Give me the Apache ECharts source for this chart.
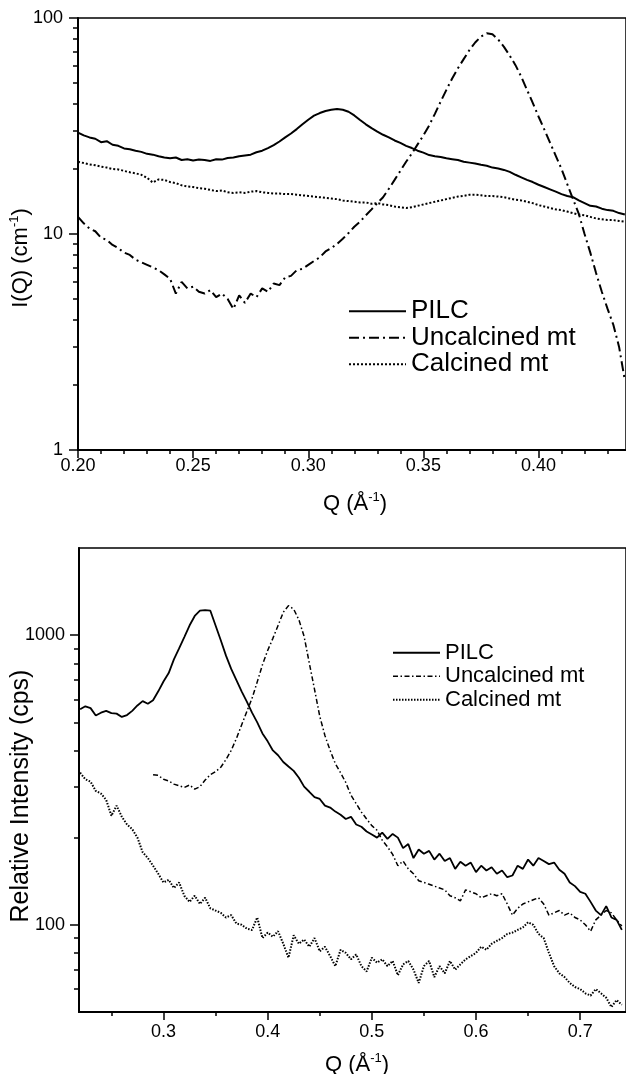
<!DOCTYPE html>
<html><head><meta charset="utf-8">
<script src="https://cdn.jsdelivr.net/npm/echarts@6/dist/echarts.min.js"></script>
<style>html,body{margin:0;padding:0;background:#fff}#c{width:626px;height:1074px}</style>
</head><body><div id="c"></div>
<script>
// ---------- Top panel (SANS) ----------
const topQ = [0.2000,0.2025,0.2050,0.2075,0.2100,0.2125,0.2150,0.2175,0.2200,0.2225,
0.2250,0.2275,0.2300,0.2325,0.2350,0.2375,0.2400,0.2425,0.2450,0.2475,
0.2500,0.2525,0.2550,0.2575,0.2600,0.2625,0.2650,0.2675,0.2700,0.2725,
0.2750,0.2775,0.2800,0.2825,0.2850,0.2875,0.2900,0.2925,0.2950,0.2975,
0.3000,0.3025,0.3050,0.3075,0.3100,0.3125,0.3150,0.3175,0.3200,0.3225,
0.3250,0.3275,0.3300,0.3325,0.3350,0.3375,0.3400,0.3425,0.3450,0.3475,
0.3500,0.3525,0.3550,0.3575,0.3600,0.3625,0.3650,0.3675,0.3700,0.3725,
0.3750,0.3775,0.3800,0.3825,0.3850,0.3875,0.3900,0.3925,0.3950,0.3975,
0.4000,0.4025,0.4050,0.4075,0.4100,0.4125,0.4150,0.4175,0.4200,0.4225,
0.4250,0.4275,0.4300,0.4325,0.4350,0.4375];
const topPILC = [29.5,28.6,28.0,27.6,26.6,26.9,25.9,25.6,24.9,24.7,
24.3,24.0,23.5,23.3,22.9,22.6,22.4,22.6,22.0,22.2,
21.9,22.1,22.0,21.8,22.2,22.1,22.5,22.6,22.9,23.1,
23.3,23.9,24.3,25.0,25.8,26.8,28.0,29.2,30.6,32.2,
33.8,35.3,36.3,37.1,37.6,37.9,37.6,36.8,35.4,33.7,
32.2,30.9,29.8,28.8,28.0,27.1,26.4,25.6,25.0,24.3,
23.8,23.2,22.9,22.7,22.4,22.2,22.0,21.6,21.4,21.2,
20.9,20.7,20.3,20.1,19.8,19.4,18.8,18.3,17.8,17.4,
16.9,16.5,16.1,15.7,15.3,15.0,14.8,14.3,13.9,13.5,
13.4,13.1,12.9,12.8,12.5,12.3];
const topUncalcined = [12.0,11.2,10.6,10.3,9.6,9.4,8.9,8.6,8.2,8.0,
7.6,7.4,7.2,7.0,6.8,6.5,6.2,5.3,6.0,5.6,
5.7,5.4,5.3,5.5,5.1,5.3,5.0,4.5,5.2,4.8,
5.3,5.1,5.6,5.4,5.9,5.8,6.3,6.4,6.8,6.9,
7.2,7.5,7.8,8.3,8.6,9.0,9.5,10.1,10.8,11.4,
12.2,13.0,13.9,14.8,16.2,17.8,19.6,21.6,23.6,26.0,
28.6,31.8,36.0,41.0,46.5,52.5,58.5,64.5,71.0,77.0,
82.0,85.0,84.0,79.5,73.5,67.0,60.5,53.5,46.5,40.5,
35.0,30.5,26.5,23.0,20.0,17.0,14.5,12.4,10.0,8.2,
6.6,5.4,4.5,3.8,3.0,2.1];
const topCalcined = [21.6,21.3,21.0,20.8,20.5,20.3,20.0,19.9,19.6,19.3,
19.1,18.8,18.2,17.3,17.9,17.8,17.4,17.2,16.8,16.6,
16.5,16.3,16.2,16.0,15.8,15.9,15.6,15.5,15.6,15.5,
15.7,15.8,15.6,15.5,15.4,15.4,15.3,15.3,15.2,15.1,
15.0,14.9,14.8,14.7,14.6,14.5,14.3,14.2,14.1,14.0,
14.0,13.8,13.9,13.7,13.6,13.4,13.3,13.2,13.3,13.5,
13.7,13.9,14.1,14.3,14.5,14.7,14.9,15.0,15.2,15.2,
15.1,15.0,15.0,14.9,14.8,14.6,14.4,14.3,14.1,13.9,
13.6,13.4,13.2,13.0,12.9,12.7,12.5,12.3,12.2,12.0,
11.8,11.7,11.6,11.6,11.5,11.4];
const topXLabels = [0.20,0.25,0.30,0.35,0.40];
const topXMinor = [0.21,0.22,0.23,0.24,0.26,0.27,0.28,0.29,0.31,0.32,0.33,0.34,0.36,0.37,0.38,0.39,0.41,0.42,0.43];
const topYLabels = [1,10,100];
const topYMinor = [2,3,4,5,6,7,8,9,20,30,40,50,60,70,80,90];

// ---------- Bottom panel (XRD) ----------
const botQ = [0.220,0.225,0.230,0.235,0.240,0.245,0.250,0.255,0.260,0.265,
0.270,0.275,0.280,0.285,0.290,0.295,0.300,0.305,0.310,0.315,
0.320,0.325,0.330,0.335,0.340,0.345,0.350,0.355,0.360,0.365,
0.370,0.375,0.380,0.385,0.390,0.395,0.400,0.405,0.410,0.415,
0.420,0.425,0.430,0.435,0.440,0.445,0.450,0.455,0.460,0.465,
0.470,0.475,0.480,0.485,0.490,0.495,0.500,0.505,0.510,0.515,
0.520,0.525,0.530,0.535,0.540,0.545,0.550,0.555,0.560,0.565,
0.570,0.575,0.580,0.585,0.590,0.595,0.600,0.605,0.610,0.615,
0.620,0.625,0.630,0.635,0.640,0.645,0.650,0.655,0.660,0.665,
0.670,0.675,0.680,0.685,0.690,0.695,0.700,0.705,0.710,0.715,
0.720,0.725,0.730,0.735,0.740];
const botPILC = [555,568,560,528,540,548,538,536,522,530,
548,572,592,580,596,640,692,740,825,900,
985,1080,1165,1215,1220,1215,1080,960,850,765,
700,640,590,540,500,458,430,400,385,365,
352,340,322,300,288,276,272,258,254,246,
240,232,236,222,218,210,205,200,208,198,
206,200,184,190,170,182,176,180,168,176,
166,170,156,165,160,164,152,160,154,158,
150,154,146,148,160,156,168,160,170,166,
162,164,155,150,140,136,130,128,120,112,
108,116,106,104,96];
const botUncalcined = [null,null,null,null,null,null,null,null,null,null,
null,null,null,null,330,328,318,314,306,302,
298,304,294,300,316,330,338,350,372,400,
440,490,545,605,690,790,885,975,1080,1200,
1265,1230,1130,990,800,650,525,450,400,360,
335,310,280,262,245,232,220,212,196,186,
175,160,166,156,150,142,140,138,136,134,
132,126,124,121,132,130,128,124,126,128,
126,128,118,108,114,118,120,122,124,118,
108,110,112,108,110,106,104,100,95,104,
108,112,110,104,99];
const botCalcined = [335,318,312,290,284,270,238,258,236,222,
214,200,178,170,160,150,140,143,134,140,
126,120,126,118,124,114,112,110,106,108,
101,100,97,96,106,90,94,91,95,86,
77,92,86,89,84,90,81,84,78,72,
82,80,76,79,72,69,77,74,76,72,
75,67,73,75,70,63,72,75,66,72,
68,75,70,73,76,78,80,84,82,86,
88,90,93,94,96,98,102,100,93,90,
80,72,68,66,63,61,60,58,57,60,
58,56,52,55,53];
const botXLabels = [0.3,0.4,0.5,0.6,0.7];
const botXMinor = [0.25,0.35,0.45,0.55,0.65];
const botYLabels = [100,1000];
const botYMinor = [60,70,80,90,200,300,400,500,600,700,800,900];

const names = ['PILC','Uncalcined mt','Calcined mt'];

// ---------- build ----------
const FONT = '"Liberation Sans", Arial, Helvetica, sans-serif';
const BLACK = '#000';
function pairs(q, v){ const out=[]; for(let i=0;i<q.length;i++){ if(v[i]!=null) out.push([q[i], v[i]]); } return out; }

function mainX(grid, min, max, labels, dec, margin){
  return {gridIndex:grid, type:'value', min:min, max:max, position:'bottom',
    axisLine:{show:true, lineStyle:{color:BLACK, width:2}},
    axisTick:{show:true, customValues:labels, length:8, lineStyle:{color:BLACK, width:1.5}},
    axisLabel:{show:true, customValues:labels, formatter:v=>v.toFixed(dec), fontSize:18, color:BLACK, fontFamily:FONT, margin:margin},
    splitLine:{show:false}, minorTick:{show:false}};
}
function minorX(grid, min, max, ticks){
  return {gridIndex:grid, type:'value', min:min, max:max, position:'bottom',
    axisLine:{show:false}, axisTick:{show:true, customValues:ticks, length:4, lineStyle:{color:BLACK, width:1.5}},
    axisLabel:{show:false}, splitLine:{show:false}};
}
function mainY(grid, min, max, labels, margin){
  return {gridIndex:grid, type:'log', logBase:10, min:min, max:max, position:'left',
    axisLine:{show:true, lineStyle:{color:BLACK, width:2}},
    axisTick:{show:true, customValues:labels, length:9, lineStyle:{color:BLACK, width:1.5}},
    axisLabel:{show:true, customValues:labels, formatter:v=>String(Math.round(v)), fontSize:18, color:BLACK, fontFamily:FONT, margin:margin},
    splitLine:{show:false}};
}
function minorY(grid, min, max, ticks){
  return {gridIndex:grid, type:'log', logBase:10, min:min, max:max, position:'left',
    axisLine:{show:false}, axisTick:{show:true, customValues:ticks, length:5, lineStyle:{color:BLACK, width:1.5}},
    axisLabel:{show:false}, splitLine:{show:false}};
}

const topStyles = [
  {type:'solid', width:2},
  {type:[10,4,2,4], width:2},
  {type:[2,2], width:2}
];
const botStyles = [
  {type:'solid', width:1.8},
  {type:[5,2.5,1.5,2.5], width:1.5},
  {type:[1.5,1.5], width:2}
];
const topData = [topPILC, topUncalcined, topCalcined];
const botData = [botPILC, botUncalcined, botCalcined];

const series = [];
names.forEach((n,i)=>{
  series.push({name:n, type:'line', xAxisIndex:0, yAxisIndex:0, symbol:'none', clip:true,
    data:pairs(topQ, topData[i]), lineStyle:Object.assign({color:BLACK}, topStyles[i]), itemStyle:{color:BLACK}});
});
names.forEach((n,i)=>{
  series.push({name:n, type:'line', xAxisIndex:2, yAxisIndex:2, symbol:'none', clip:true,
    data:pairs(botQ, botData[i]), lineStyle:Object.assign({color:BLACK}, botStyles[i]), itemStyle:{color:BLACK}});
});

function titleText(x, y, rot, parts, size){
  return {type:'text', x:x, y:y, rotation:rot,
    style:{text:parts, align:'center', verticalAlign:'middle', fill:BLACK,
      rich:{t:{fontSize:size, fontFamily:FONT, fill:BLACK, lineHeight:size+2, verticalAlign:'bottom'},
            s:{fontSize:Math.round(size*0.6), fontFamily:FONT, fill:BLACK, lineHeight:size+2, verticalAlign:'top'}}}};
}

const option = {
  animation:false,
  backgroundColor:'#fff',
  grid:[
    {left:78, top:18, right:-3, bottom:624, show:true, borderColor:BLACK, borderWidth:1.5, backgroundColor:'transparent'},
    {left:79, top:548, right:-3, bottom:62, show:true, borderColor:BLACK, borderWidth:1.5, backgroundColor:'transparent'}
  ],
  xAxis:[
    mainX(0, 0.2, 0.438, topXLabels, 2, 7),
    minorX(0, 0.2, 0.438, topXMinor),
    mainX(1, 0.2189, 0.744, botXLabels, 1, 11),
    minorX(1, 0.2189, 0.744, botXMinor)
  ],
  yAxis:[
    mainY(0, 1, 100, topYLabels, 15),
    minorY(0, 1, 100, topYMinor),
    mainY(1, 50, 2000, botYLabels, 14),
    minorY(1, 50, 2000, botYMinor)
  ],
  legend:[
    {orient:'vertical', left:343, top:293, itemWidth:57, itemHeight:14, itemGap:0, selectedMode:false,
     textStyle:{fontSize:26, lineHeight:26.5, color:BLACK, fontFamily:FONT},
     data:names.map((n,i)=>({name:n, itemStyle:{opacity:0}, lineStyle:Object.assign({color:BLACK}, topStyles[i])}))},
    {orient:'vertical', left:387, top:636, itemWidth:47, itemHeight:14, itemGap:0, selectedMode:false,
     textStyle:{fontSize:22, lineHeight:23.5, color:BLACK, fontFamily:FONT},
     data:names.map((n,i)=>({name:n, itemStyle:{opacity:0}, lineStyle:Object.assign({color:BLACK}, botStyles[i])}))}
  ],
  graphic:[
    titleText(20, 258, Math.PI/2, '{t|I(Q) (cm}{s|-1}{t|)}', 22),
    titleText(355, 503, 0, '{t|Q (Å}{s|-1}{t|)}', 22),
    titleText(20, 796, Math.PI/2, '{t|Relative Intensity (cps)}', 25),
    titleText(357, 1064, 0, '{t|Q (Å}{s|-1}{t|)}', 22)
  ],
  series:series
};
const chart = echarts.init(document.getElementById('c'), null, {renderer:'canvas'});
chart.setOption(option);
</script>
</body></html>
